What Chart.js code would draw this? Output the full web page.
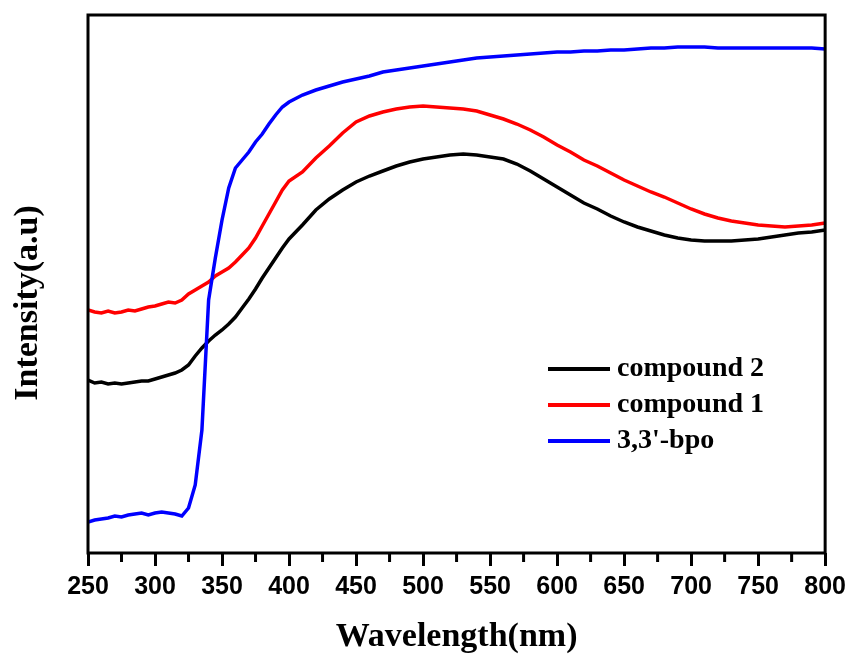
<!DOCTYPE html>
<html>
<head>
<meta charset="utf-8">
<script src="https://cdn.jsdelivr.net/npm/chart.js@4.4.0/dist/chart.umd.min.js"></script>
<style>
  html, body { margin: 0; padding: 0; background: #fff; }
  #chart { display: block; }
</style>
</head>
<body>
<canvas id="chart" width="852" height="658"></canvas>
<script>
// Wavelength (nm) - 5 nm steps up to 400, then 10 nm
const wavelengths = [
  250, 255, 260, 265, 270, 275, 280, 285, 290, 295, 300, 305, 310, 315, 320, 325,
  330, 335, 340, 345, 350, 355, 360, 365, 370, 375, 380, 385, 390, 395, 400,
  410, 420, 430, 440, 450, 460, 470, 480, 490, 500, 510, 520, 530, 540, 550,
  560, 570, 580, 590, 600, 610, 620, 630, 640, 650, 660, 670, 680, 690, 700,
  710, 720, 730, 740, 750, 760, 770, 780, 790, 800
];

// Intensity (a.u.)
const compound2 = [
  173, 170, 171, 169, 170, 169, 170, 171, 172, 172, 174, 176, 178, 180, 183, 188,
  197, 205, 212, 218, 223, 229, 236, 245, 254, 264, 275, 285, 295, 305, 314,
  328, 343, 354, 363, 371, 377, 382, 387, 391, 394, 396, 398, 399, 398, 396,
  394, 389, 382, 374, 366, 358, 350, 344, 337, 331, 326, 322, 318, 315, 313,
  312, 312, 312, 313, 314, 316, 318, 320, 321, 323
];
const compound1 = [
  243, 241, 240, 242, 240, 241, 243, 242, 244, 246, 247, 249, 251, 250, 253, 259,
  263, 267, 271, 277, 281, 285, 291, 298, 305, 315, 327, 339, 351, 363, 372,
  381, 395, 407, 420, 431, 437, 441, 444, 446, 447, 446, 445, 444, 442, 438,
  434, 429, 423, 416, 408, 401, 393, 387, 380, 373, 367, 361, 356, 350, 344,
  339, 335, 332, 330, 328, 327, 326, 327, 328, 330
];
const bpo = [
  31, 33, 34, 35, 37, 36, 38, 39, 40, 38, 40, 41, 40, 39, 37, 45,
  68, 123, 253, 295, 333, 365, 385, 393, 401, 411, 419, 429, 438, 446, 451,
  458, 463, 467, 471, 474, 477, 481, 483, 485, 487, 489, 491, 493, 495, 496,
  497, 498, 499, 500, 501, 501, 502, 502, 503, 503, 504, 505, 505, 506, 506,
  506, 505, 505, 505, 505, 505, 505, 505, 505, 504
];

const seriesNames = ["compound 2", "compound 1", "3,3'-bpo"];
const seriesColors = ["#000000", "#ff0000", "#0000ff"];
const xTicksMajor = [250, 300, 350, 400, 450, 500, 550, 600, 650, 700, 750, 800];
const xTicksMinor = [275, 325, 375, 425, 475, 525, 575, 625, 675, 725, 775];

const toPoints = (ys) => wavelengths.map((w, i) => ({ x: w, y: ys[i] }));

// frame, minor ticks, y title and legend
const extras = {
  id: "extras",
  afterDraw(chart) {
    const ctx = chart.ctx;
    const a = chart.chartArea;
    const xs = chart.scales.x;
    ctx.save();
    ctx.strokeStyle = "#000";
    ctx.lineWidth = 3;
    ctx.strokeRect(a.left, a.top, a.right - a.left, a.bottom - a.top);

    ctx.beginPath();
    xTicksMinor.forEach((v) => {
      const px = xs.getPixelForValue(v);
      ctx.moveTo(px, a.bottom);
      ctx.lineTo(px, a.bottom + 9);
    });
    ctx.stroke();

    ctx.fillStyle = "#000";
    ctx.font = "bold 34px 'Liberation Serif'";
    ctx.textAlign = "center";
    ctx.textBaseline = "middle";
    ctx.translate(28, 303);
    ctx.rotate(-Math.PI / 2);
    ctx.fillText("Intensity(a.u)", 0, 0);
    ctx.restore();

    ctx.save();
    ctx.font = "bold 28px 'Liberation Serif'";
    ctx.textBaseline = "middle";
    ctx.textAlign = "left";
    chart.data.datasets.forEach((ds, i) => {
      const y = 369 + i * 36;
      ctx.strokeStyle = ds.borderColor;
      ctx.lineWidth = 4;
      ctx.beginPath();
      ctx.moveTo(548, y);
      ctx.lineTo(610, y);
      ctx.stroke();
      ctx.fillStyle = "#000";
      ctx.fillText(ds.label, 617, y);
    });
    ctx.restore();
  }
};

new Chart(document.getElementById("chart"), {
  type: "line",
  data: {
    datasets: [
      { label: seriesNames[0], data: toPoints(compound2), borderColor: seriesColors[0], order: 2 },
      { label: seriesNames[1], data: toPoints(compound1), borderColor: seriesColors[1], order: 1 },
      { label: seriesNames[2], data: toPoints(bpo), borderColor: seriesColors[2], order: 0 },
    ].map((d) => Object.assign(d, { borderWidth: 3.5, pointRadius: 0, tension: 0, fill: false })),
  },
  options: {
    responsive: false,
    animation: false,
    layout: { padding: { top: 15, right: 26, left: 0, bottom: 0 } },
    plugins: { legend: { display: false }, tooltip: { enabled: false } },
    scales: {
      x: {
        type: "linear",
        min: 250,
        max: 800,
        afterBuildTicks: (s) => { s.ticks = xTicksMajor.map((v) => ({ value: v })); },
        afterFit: (s) => { s.height = 105; },
        border: { display: false },
        grid: { drawOnChartArea: false, tickLength: 13, tickWidth: 3, tickColor: "#000" },
        ticks: { color: "#000", padding: 6, font: { family: "'Liberation Sans'", size: 25, weight: "bold" } },
        title: {
          display: true,
          text: "Wavelength(nm)",
          color: "#000",
          padding: { top: 0, bottom: 0 },
          font: { family: "'Liberation Serif'", size: 34, weight: "bold" },
        },
      },
      y: {
        min: 0,
        max: 538,
        afterFit: (s) => { s.width = 88; },
        border: { display: false },
        grid: { display: false },
        ticks: { display: false },
      },
    },
  },
  plugins: [extras],
});
</script>
</body>
</html>
